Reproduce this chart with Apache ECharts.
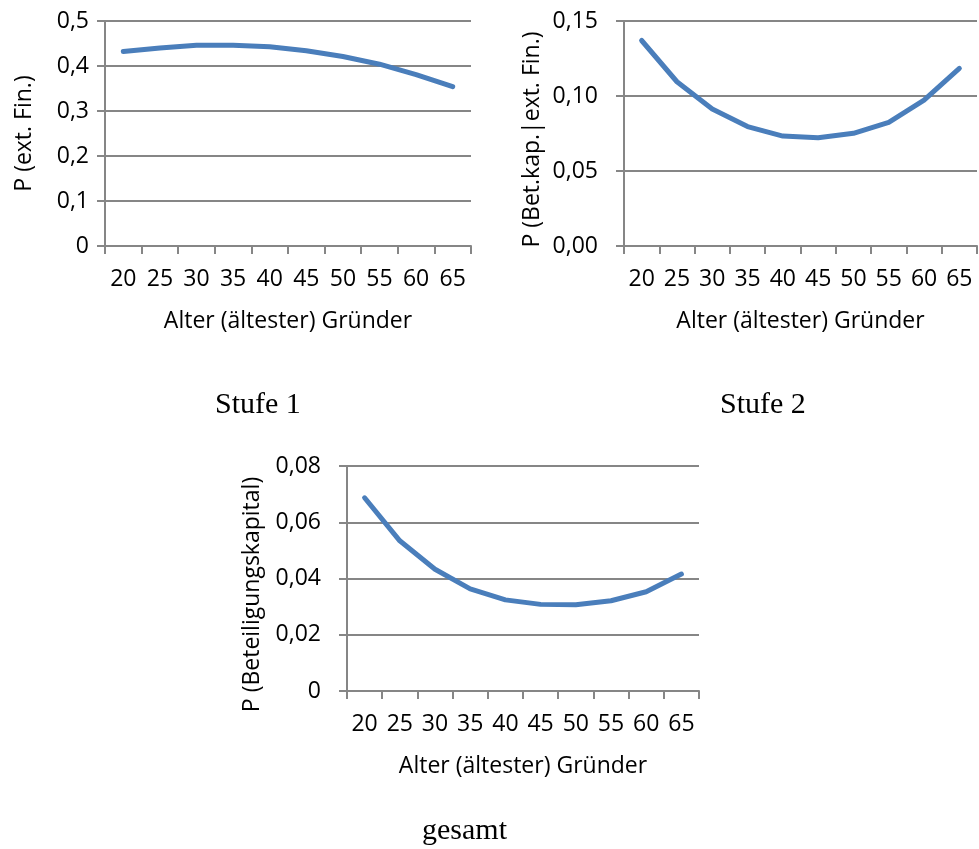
<!DOCTYPE html>
<html>
<head>
<meta charset="utf-8">
<script src="https://cdn.jsdelivr.net/npm/echarts@6/dist/echarts.min.js"></script>
<style>
  html, body { margin: 0; padding: 0; background: #ffffff; }
  #chart { width: 979px; height: 849px; }
</style>
</head>
<body>
<div id="chart"></div>
<script>
// ---- data ----
var ages = ['20', '25', '30', '35', '40', '45', '50', '55', '60', '65'];
var stufe1 = [0.432, 0.440, 0.446, 0.446, 0.443, 0.434, 0.421, 0.404, 0.381, 0.354];
var stufe2 = [0.137, 0.1095, 0.0913, 0.0796, 0.0733, 0.0722, 0.0751, 0.0824, 0.0973, 0.1184];
var gesamt = [0.0687, 0.0534, 0.0433, 0.0363, 0.0324, 0.0308, 0.0307, 0.0321, 0.0353, 0.0416];

var yTicks1 = ['0', '0,1', '0,2', '0,3', '0,4', '0,5'];
var yTicks2 = ['0,00', '0,05', '0,10', '0,15'];
var yTicks3 = ['0', '0,02', '0,04', '0,06', '0,08'];

var xName = 'Alter (ältester) Gründer';
var yName1 = 'P (ext. Fin.)';
var yName2 = 'P (Bet.kap.|ext. Fin.)';
var yName3 = 'P (Beteiligungskapital)';
var captions = ['Stufe 1', 'Stufe 2', 'gesamt'];

// ---- styling ----
var FONT = 'Open Sans';
var GRAY = '#868686';
var BLUE = '#4a7ebb';

function xAxisCfg(gridIndex) {
  return {
    type: 'category', gridIndex: gridIndex, data: ages, boundaryGap: true,
    name: xName, nameLocation: 'middle', nameGap: 64,
    nameTextStyle: { fontFamily: FONT, fontSize: 23, color: '#000' },
    axisLine: { show: true, lineStyle: { color: GRAY, width: 2 } },
    axisTick: { show: true, length: 8, inside: false, alignWithLabel: false, lineStyle: { color: GRAY, width: 2 } },
    axisLabel: { interval: 0, margin: 22, fontFamily: FONT, fontSize: 23, color: '#000' },
    splitLine: { show: false }
  };
}

function yAxisCfg(gridIndex, max, interval, labels, name, nameGap, labelMargin, shift) {
  return {
    type: 'value', gridIndex: gridIndex, min: 0, max: max, interval: interval,
    name: name, nameLocation: 'middle', nameGap: nameGap, nameRotate: 90,
    nameTextStyle: { fontFamily: FONT, fontSize: 23, color: '#000', padding: [0, shift, 0, 0] },
    axisLine: { show: true, lineStyle: { color: GRAY, width: 2 } },
    axisTick: { show: true, length: 8, inside: false, lineStyle: { color: GRAY, width: 2 } },
    axisLabel: {
      margin: labelMargin, fontFamily: FONT, fontSize: 23, color: '#000',
      formatter: function (v) { return labels[Math.round(v / interval)]; }
    },
    splitLine: { show: true, lineStyle: { color: GRAY, width: 2 } }
  };
}

function seriesCfg(idx, data) {
  return {
    type: 'line', xAxisIndex: idx, yAxisIndex: idx, data: data,
    showSymbol: false, symbol: 'none', smooth: false,
    lineStyle: { color: BLUE, width: 5, cap: 'round', join: 'round' },
    animation: false
  };
}

var chart = echarts.init(document.getElementById('chart'), null, { renderer: 'canvas' });
chart.setOption({
  backgroundColor: '#ffffff',
  animation: false,
  grid: [
    { left: 105, top: 21, width: 366, height: 225 },
    { left: 624, top: 21, width: 353, height: 225 },
    { left: 347, top: 466, width: 352, height: 225 }
  ],
  xAxis: [xAxisCfg(0), xAxisCfg(1), xAxisCfg(2)],
  yAxis: [
    yAxisCfg(0, 0.5, 0.1, yTicks1, yName1, 69.5, 16, 0),
    yAxisCfg(1, 0.15, 0.05, yTicks2, yName2, 80.5, 26, 12),
    yAxisCfg(2, 0.08, 0.02, yTicks3, yName3, 83.5, 26, 32)
  ],
  series: [seriesCfg(0, stufe1), seriesCfg(1, stufe2), seriesCfg(2, gesamt)],
  graphic: [
    { type: 'text', left: 215, top: 390, style: { text: captions[0], font: '30px "Liberation Serif"', fill: '#000' } },
    { type: 'text', left: 720, top: 390, style: { text: captions[1], font: '30px "Liberation Serif"', fill: '#000' } },
    { type: 'text', left: 422, top: 816, style: { text: captions[2], font: '30px "Liberation Serif"', fill: '#000' } }
  ]
});
</script>
</body>
</html>
